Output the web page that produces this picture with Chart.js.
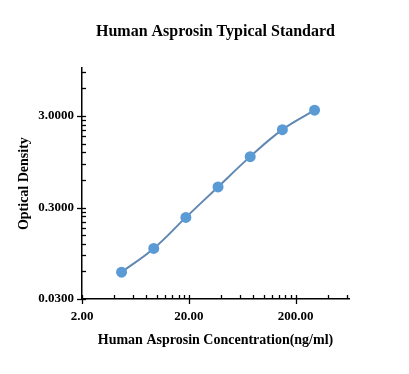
<!DOCTYPE html>
<html>
<head>
<meta charset="utf-8">
<script src="https://cdn.jsdelivr.net/npm/chart.js@4/dist/chart.umd.min.js"></script>
<style>
  html, body { margin: 0; padding: 0; background: #ffffff; }
  #wrap { width: 409px; height: 374px; }
</style>
</head>
<body>
<div id="wrap"><canvas id="c" width="409" height="374"></canvas></div>
<script>
// ---- data ----
const concentrations = [4.69, 9.38, 18.75, 37.5, 75, 150, 300];
const opticalDensity = [0.059, 0.107, 0.234, 0.504, 1.08, 2.13, 3.48];

// tick values and labelled (major) ticks
const xTickValues = [2, 4, 6, 8, 10, 12, 14, 16, 18, 20, 40, 60, 80, 100, 120, 140, 160, 180, 200, 400, 600];
const xMajorTicks = [2, 20, 200];
const yTickValues = [0.03, 0.06, 0.09, 0.12, 0.15, 0.18, 0.21, 0.24, 0.27, 0.3,
                     0.6, 0.9, 1.2, 1.5, 1.8, 2.1, 2.4, 2.7, 3, 6, 9];
const yMajorTicks = [0.03, 0.3, 3];

const titleText = 'Human Asprosin Typical Standard';
const xTitle = 'Human Asprosin Concentration(ng/ml)';
const yTitle = 'Optical Density';

const points = concentrations.map((x, i) => ({ x: x, y: opticalDensity[i] }));
const isIn = (v, arr) => arr.some(a => Math.abs(a - v) / a < 1e-6);
const FONT = "'Liberation Serif', 'Times New Roman', serif";

const tickPlugin = {
  id: 'tickMarks',
  afterDraw(chart) {
    const ctx = chart.ctx;
    const ca = chart.chartArea;
    const xs = chart.scales.x, ys = chart.scales.y;
    ctx.save();
    ctx.strokeStyle = '#000';
    ctx.lineWidth = 1.3;
    xTickValues.forEach(v => {
      const px = Math.round(xs.getPixelForValue(v)) + 0.5;
      const major = isIn(v, xMajorTicks);
      ctx.beginPath();
      ctx.moveTo(px, ca.bottom - 4);
      ctx.lineTo(px, major ? ca.bottom + 5 : ca.bottom);
      ctx.stroke();
    });
    yTickValues.forEach(v => {
      const py = Math.round(ys.getPixelForValue(v)) + 0.5;
      const major = isIn(v, yMajorTicks);
      ctx.beginPath();
      ctx.moveTo(major ? ca.left - 5 : ca.left, py);
      ctx.lineTo(ca.left + 4, py);
      ctx.stroke();
    });
    ctx.restore();
  }
};

new Chart(document.getElementById('c'), {
  type: 'line',
  data: {
    datasets: [{
      data: points,
      borderColor: '#6088b2',
      borderWidth: 2,
      backgroundColor: '#5b9bd5',
      pointBackgroundColor: '#5b9bd5',
      pointBorderColor: '#5b9bd5',
      pointRadius: 4.5,
      pointHoverRadius: 4.5,
      tension: 0.4,
      fill: false
    }]
  },
  options: {
    responsive: false,
    animation: false,
    layout: { padding: { left: 0, right: 60, top: 0, bottom: 0 } },
    plugins: {
      legend: { display: false },
      tooltip: { enabled: false },
      title: {
        display: true,
        text: titleText,
        fullSize: false,
        color: '#000',
        font: { family: FONT, size: 16, weight: 'bold' },
        padding: { top: 22, bottom: 27 }
      }
    },
    scales: {
      x: {
        type: 'logarithmic',
        min: 2,
        max: 630,
        afterBuildTicks(scale) { scale.ticks = xTickValues.map(v => ({ value: v })); },
        afterFit(scale) { scale.height = 75; },
        ticks: {
          autoSkip: false,
          maxRotation: 0,
          color: '#000',
          padding: 10,
          font: { family: FONT, size: 13, weight: 'bold' },
          callback: (v) => isIn(v, xMajorTicks) ? Number(v).toFixed(2) : ''
        },
        grid: { display: true, drawOnChartArea: false, drawTicks: false },
        border: { display: true, color: '#000', width: 1.5 },
        title: {
          display: true,
          text: xTitle,
          color: '#000',
          font: { family: FONT, size: 14, weight: 'bold' },
          padding: { top: 0, bottom: 25 }
        }
      },
      y: {
        type: 'logarithmic',
        min: 0.03,
        max: 10,
        afterBuildTicks(scale) { scale.ticks = yTickValues.map(v => ({ value: v })); },
        afterFit(scale) { scale.width = 82; },
        ticks: {
          autoSkip: false,
          color: '#000',
          padding: 8,
          font: { family: FONT, size: 13, weight: 'bold' },
          callback: (v) => isIn(v, yMajorTicks) ? Number(v).toFixed(4) : ''
        },
        grid: { display: true, drawOnChartArea: false, drawTicks: false },
        border: { display: true, color: '#000', width: 1.5 },
        title: {
          display: true,
          text: yTitle,
          color: '#000',
          font: { family: FONT, size: 14, weight: 'bold' },
          padding: { top: 16, bottom: 0 }
        }
      }
    }
  },
  plugins: [tickPlugin]
});
</script>
</body>
</html>
